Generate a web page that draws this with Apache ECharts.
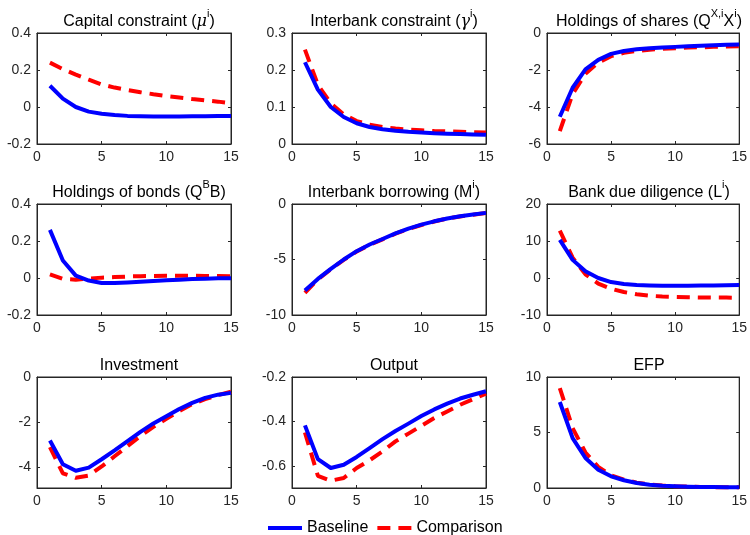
<!DOCTYPE html>
<html><head><meta charset="utf-8">
<script src="https://cdn.jsdelivr.net/npm/echarts@6/dist/echarts.min.js"></script>
<style>html,body{margin:0;padding:0;background:#fff}#c{width:750px;height:535px}</style>
</head><body><div id="c"></div>
<script>
const periods = [1,2,3,4,5,6,7,8,9,10,11,12,13,14,15];
const xTicks = [0,5,10,15];

const capBase = [0.115,0.045,0.0,-0.025,-0.036,-0.043,-0.048,-0.05,-0.051,-0.051,-0.051,-0.05,-0.05,-0.049,-0.048];
const capComp = [0.24,0.205,0.175,0.148,0.122,0.105,0.092,0.08,0.069,0.059,0.051,0.043,0.036,0.029,0.021];
const ibcBase = [0.221,0.147,0.1,0.073,0.056,0.046,0.04,0.036,0.033,0.031,0.029,0.028,0.027,0.026,0.025];
const ibcComp = [0.255,0.16,0.11,0.08,0.062,0.052,0.046,0.042,0.039,0.037,0.035,0.034,0.033,0.032,0.031];
const sharesBase = [-4.53,-2.96,-1.97,-1.45,-1.13,-0.97,-0.88,-0.82,-0.78,-0.75,-0.72,-0.69,-0.66,-0.64,-0.62];
const sharesComp = [-5.3,-3.3,-2.2,-1.6,-1.25,-1.07,-0.97,-0.9,-0.86,-0.82,-0.79,-0.77,-0.75,-0.73,-0.71];
const bondsBase = [0.26,0.095,0.013,-0.014,-0.027,-0.027,-0.024,-0.02,-0.016,-0.012,-0.009,-0.006,-0.004,-0.002,-0.001];
const bondsComp = [0.02,-0.005,-0.009,-0.003,0.002,0.005,0.008,0.01,0.011,0.012,0.012,0.012,0.011,0.011,0.01];
const ibbBase = [-7.8,-6.75,-5.85,-5.0,-4.25,-3.65,-3.15,-2.65,-2.22,-1.86,-1.56,-1.3,-1.1,-0.95,-0.8];
const ibbComp = [-8.0,-6.8,-5.88,-5.03,-4.28,-3.68,-3.18,-2.68,-2.25,-1.89,-1.58,-1.32,-1.12,-0.96,-0.81];
const bddBase = [10.3,4.9,1.8,0.0,-1.1,-1.6,-1.9,-2.0,-2.1,-2.1,-2.1,-2.05,-2.0,-1.95,-1.9];
const bddComp = [12.8,5.5,1.0,-1.5,-2.9,-3.8,-4.4,-4.8,-5.0,-5.1,-5.2,-5.25,-5.3,-5.3,-5.35];
const invBase = [-2.8,-3.85,-4.14,-4.0,-3.63,-3.24,-2.83,-2.42,-2.05,-1.73,-1.41,-1.14,-0.92,-0.78,-0.7];
const invComp = [-3.1,-4.25,-4.45,-4.35,-3.95,-3.5,-3.05,-2.6,-2.2,-1.85,-1.5,-1.2,-0.98,-0.8,-0.65];
const outBase = [-0.418,-0.57,-0.61,-0.595,-0.56,-0.52,-0.48,-0.443,-0.41,-0.376,-0.346,-0.32,-0.297,-0.28,-0.264];
const outComp = [-0.45,-0.645,-0.667,-0.655,-0.61,-0.575,-0.535,-0.49,-0.455,-0.42,-0.385,-0.355,-0.325,-0.3,-0.275];
const efpBase = [7.75,4.5,2.7,1.65,1.05,0.7,0.45,0.3,0.2,0.15,0.12,0.1,0.08,0.07,0.06];
const efpComp = [9.0,5.4,3.2,1.9,1.15,0.75,0.48,0.32,0.22,0.16,0.12,0.1,0.08,0.07,0.06];

const titles = [
  '{t|Capital constraint (}{it|μ}{sup|i}{t|)}',
  '{t|Interbank constraint (}{it|γ}{sup|i}{t|)}',
  '{t|Holdings of shares (Q}{sup|X,i}{t|X}{sup|i}{t|)}',
  '{t|Holdings of bonds (Q}{sup|B}{t|B)}',
  '{t|Interbank borrowing (M}{sup|i}{t|)}',
  '{t|Bank due diligence (L}{sup|i}{t|)}',
  '{t|Investment}',
  '{t|Output}',
  '{t|EFP}'
];
const yMins = [-0.2, 0, -6, -0.2, -10, -10, -4.9, -0.7, 0];
const yMaxs = [0.4, 0.3, 0, 0.4, 0, 20, 0, -0.2, 10];
const yTicks = [
  [-0.2,0,0.2,0.4],[0,0.1,0.2,0.3],[-6,-4,-2,0],
  [-0.2,0,0.2,0.4],[-10,-5,0],[-10,0,10,20],
  [-4,-2,0],[-0.6,-0.4,-0.2],[0,5,10]
];
const baseSets = [capBase, ibcBase, sharesBase, bondsBase, ibbBase, bddBase, invBase, outBase, efpBase];
const compSets = [capComp, ibcComp, sharesComp, bondsComp, ibbComp, bddComp, invComp, outComp, efpComp];

const colLeft = [37, 292, 547];
const rowTop = [33, 204, 377];
const W = 194, H = 111;
const axisColor = '#262626';
const font = 'Liberation Sans, Arial, Helvetica, sans-serif';

const grid = [], xAxis = [], yAxis = [], series = [], title = [];
for (let i = 0; i < 9; i++) {
  const r = Math.floor(i / 3), c = i % 3;
  grid.push({left: colLeft[c], top: rowTop[r], width: W, height: H, show: true,
    borderColor: axisColor, borderWidth: 1, backgroundColor: '#fff'});
  title.push({text: titles[i], left: colLeft[c] + W / 2, top: rowTop[r] - 30, textAlign: 'center',
    textStyle: {fontFamily: font, fontWeight: 'normal', color: '#000',
      rich: {
        t: {fontSize: 16, fontFamily: font, color: '#000', lineHeight: 22, verticalAlign: 'bottom'},
        it: {fontSize: 16, fontFamily: 'DejaVu Serif', fontStyle: 'italic', color: '#000', lineHeight: 22, verticalAlign: 'bottom'},
        sup: {fontSize: 11, fontFamily: font, color: '#000', lineHeight: 11, verticalAlign: 'top'}
      }}});
  const xb = {type: 'value', gridIndex: i, min: 0, max: 15,
    axisLine: {show: true, onZero: false, lineStyle: {color: axisColor, width: 1}},
    axisTick: {show: true, inside: true, length: 3, customValues: xTicks, lineStyle: {color: axisColor}},
    axisLabel: {show: true, customValues: xTicks, margin: 6, fontSize: 14, fontFamily: font, color: axisColor},
    splitLine: {show: false}};
  xAxis.push(Object.assign({position: 'bottom'}, xb));
  xAxis.push(Object.assign({}, xb, {position: 'top', axisLabel: {show: false}}));
  const yb = {type: 'value', gridIndex: i, min: yMins[i], max: yMaxs[i],
    axisLine: {show: true, onZero: false, lineStyle: {color: axisColor, width: 1}},
    axisTick: {show: true, inside: true, length: 3, customValues: yTicks[i], lineStyle: {color: axisColor}},
    axisLabel: {show: true, customValues: yTicks[i], margin: 6, fontSize: 14, fontFamily: font, color: axisColor},
    splitLine: {show: false}};
  yAxis.push(Object.assign({position: 'left'}, yb));
  yAxis.push(Object.assign({}, yb, {position: 'right', axisLabel: {show: false}}));
  series.push({name: 'Baseline', type: 'line', xAxisIndex: 2 * i, yAxisIndex: 2 * i, z: 4,
    symbol: 'none', data: periods.map((p, k) => [p, baseSets[i][k]]),
    lineStyle: {color: '#0000ff', width: 4, cap: 'butt', join: 'round'}, itemStyle: {color: '#0000ff'}, animation: false});
  series.push({name: 'Comparison', type: 'line', xAxisIndex: 2 * i, yAxisIndex: 2 * i, z: 3,
    symbol: 'none', data: periods.map((p, k) => [p, compSets[i][k]]),
    lineStyle: {color: '#ff0000', width: 4, type: [13, 8], cap: 'butt'}, itemStyle: {color: '#ff0000'}, animation: false});
}

const chart = echarts.init(document.getElementById('c'), null, {renderer: 'canvas'});
chart.setOption({
  backgroundColor: '#fff',
  animation: false,
  title: title,
  grid: grid,
  xAxis: xAxis,
  yAxis: yAxis,
  series: series,
  legend: {data: ['Baseline', 'Comparison'], left: 266, top: 520, itemWidth: 34, itemHeight: 14, itemGap: 7,
    padding: 0,
    textStyle: {fontSize: 16, fontFamily: font, color: '#000'},
    itemStyle: {opacity: 0},
    lineStyle: {width: 4}}
});
</script></body></html>
